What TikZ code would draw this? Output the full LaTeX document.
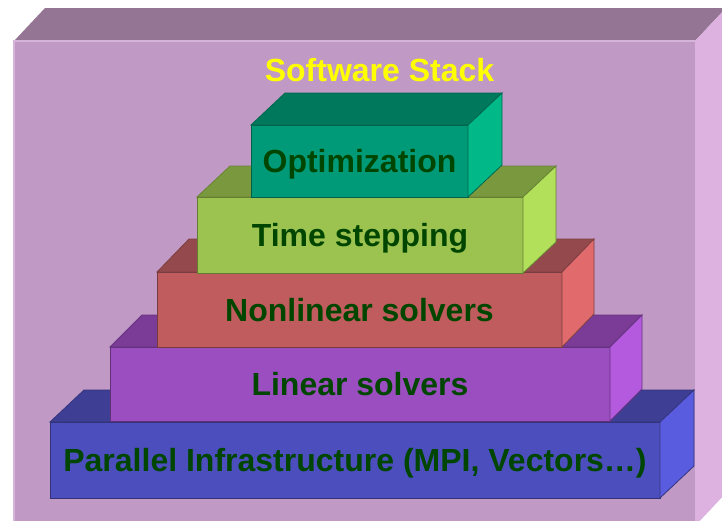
\documentclass[tikz,border=0pt]{standalone}
\usepackage{fontspec}
\setmainfont{Liberation Sans}
\usetikzlibrary{calc}

% face colours of the slabs
\definecolor{bgFront}{HTML}{C09AC5}
\definecolor{bgTop}{HTML}{957594}
\definecolor{bgSide}{HTML}{DDB2E0}
\definecolor{bgEdge}{HTML}{D4B4D8}
\definecolor{tealFront}{HTML}{009A78}
\definecolor{tealTop}{HTML}{00785C}
\definecolor{tealSide}{HTML}{00B888}
\definecolor{greenFront}{HTML}{9CC250}
\definecolor{greenTop}{HTML}{7A993E}
\definecolor{greenSide}{HTML}{B2E05A}
\definecolor{redFront}{HTML}{C05C5E}
\definecolor{redTop}{HTML}{944A4C}
\definecolor{redSide}{HTML}{E06A6C}
\definecolor{purpleFront}{HTML}{9A4EC0}
\definecolor{purpleTop}{HTML}{7A3C96}
\definecolor{purpleSide}{HTML}{B45ADE}
\definecolor{blueFront}{HTML}{4C4EBE}
\definecolor{blueTop}{HTML}{3E3E94}
\definecolor{blueSide}{HTML}{5A5CE0}
\definecolor{labelGreen}{HTML}{004600}
\definecolor{titleYellow}{HTML}{FFFF00}

\tikzset{
  face/.style={inner sep=0pt, outer sep=0pt, anchor=north west},
  slabline/.style={draw=#1, line width=0.8pt, line join=miter},
  lbl/.style={font=\fontsize{32}{38}\selectfont\bfseries, text=labelGreen, anchor=base, inner sep=0pt},
}

% \slab{name}{left}{right}{top}{bottom}{dx}{dy}{colour prefix}
\newcommand{\slab}[8]{%
  \node[face, fill=#8Front, draw=#8Top!80!black, line width=0.6pt,
        minimum width=#3-#2, minimum height=#5-#4] (#1) at (#2,#4) {};
  \filldraw[fill=#8Top, slabline=#8Top!85!black]
    (#1.north west) -- ++(#6,-#7) -- ($(#1.north east)+(#6,-#7)$) -- (#1.north east) -- cycle;
  \filldraw[fill=#8Side, slabline=#8Top!85!black]
    (#1.north east) -- ++(#6,-#7) -- ($(#1.south east)+(#6,-#7)$) -- (#1.south east) -- cycle;
}

\begin{document}
\begin{tikzpicture}[x=1pt, y=-1pt]
  \useasboundingbox (0,0) rectangle (722,520);
  \fill[white] (0,0) rectangle (722,520);

  % outer frame box
  \begin{scope}
    \clip (0,0) rectangle (722,520);
    \node[face, fill=bgFront, minimum width=681, minimum height=485] (frame) at (14,41) {};
    \fill[bgTop] (frame.north west) -- ++(31,-33) -- ($(frame.north east)+(31,-33)$) -- (frame.north east) -- cycle;
    \fill[bgSide] (frame.north east) -- ++(31,-33) -- ($(frame.south east)+(31,-33)$) -- (frame.south east) -- cycle;
    \draw[bgEdge, line width=1.2pt] (frame.south west) -- (frame.north west) -- (frame.north east);
  \end{scope}

  % stacked layers, bottom to top
  \slab{infra}{50}{660}{422}{498}{34}{32}{blue}
  \slab{linear}{110}{610}{347}{421}{32}{32}{purple}
  \slab{nonlin}{157}{562}{272}{347}{32}{33}{red}
  \slab{timestep}{197}{523}{197}{273}{33}{31}{green}
  \slab{optim}{251}{468}{125}{197}{34}{32}{teal}

  \node[lbl] (infraT) at ($(infra.center)+(0,11.5)$) {Parallel Infrastructure (MPI, Vectors…)};
  \node[lbl] (linearT) at ($(linear.center)+(0,11.5)$) {Linear solvers};
  \node[lbl] (nonlinT) at ($(nonlin.center)+(0,11.5)$) {Nonlinear solvers};
  \node[lbl] (timestepT) at ($(timestep.center)+(0,11.5)$) {Time stepping};
  \node[lbl] (optimT) at ($(optim.center)+(0,11.5)$) {Optimization};

  \node[lbl, text=titleYellow] (title) at (379.5,81) {Software Stack};
\end{tikzpicture}
\end{document}
